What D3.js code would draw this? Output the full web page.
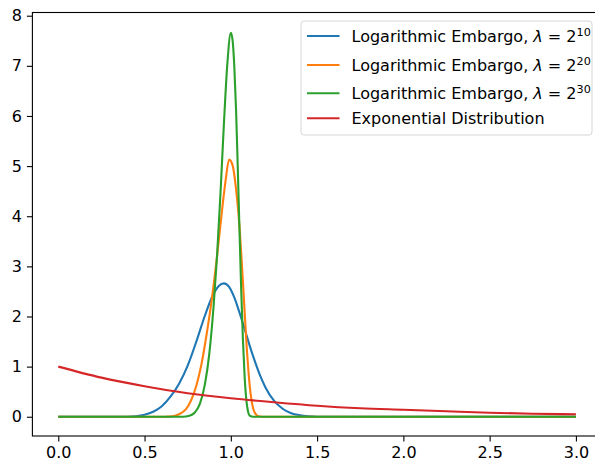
<!DOCTYPE html>
<html>
<head>
<meta charset="utf-8">
<script src="https://cdn.jsdelivr.net/npm/d3@7"></script>
<style>
  html, body { margin: 0; padding: 0; background: #fff; }
  svg { display: block; font-family: "DejaVu Sans", sans-serif; }
</style>
</head>
<body>
<div id="chart"></div>
<script>
// values
var blueX   = [0, 0.40, 0.45, 0.50, 0.55, 0.60, 0.65, 0.70, 0.75, 0.80, 0.85, 0.89, 0.93, 0.96, 0.99, 1.02, 1.05, 1.08, 1.11, 1.14, 1.17, 1.20, 1.25, 1.30, 1.35, 1.40, 1.45, 1.50, 3.00];
var blueY   = [0, 0.00, 0.01, 0.04, 0.10, 0.21, 0.40, 0.66, 1.02, 1.50, 2.02, 2.38, 2.61, 2.66, 2.59, 2.38, 2.08, 1.75, 1.41, 1.10, 0.82, 0.59, 0.32, 0.16, 0.07, 0.03, 0.01, 0.00, 0];

var orangeX = [0, 0.62, 0.66, 0.70, 0.74, 0.77, 0.80, 0.83, 0.86, 0.89, 0.92, 0.95, 0.97, 0.99, 1.01, 1.03, 1.05, 1.07, 1.09, 1.11, 1.13, 1.15, 1.17, 1.19, 3.00];
var orangeY = [0, 0, 0.01, 0.05, 0.15, 0.33, 0.62, 1.05, 1.65, 2.35, 3.20, 4.15, 4.72, 5.13, 5.02, 4.55, 3.80, 2.70, 1.50, 0.60, 0.16, 0.03, 0.005, 0, 0];

var greenX  = [0, 0.72, 0.76, 0.79, 0.82, 0.85, 0.875, 0.90, 0.92, 0.94, 0.96, 0.98, 1.00, 1.01, 1.02, 1.03, 1.04, 1.05, 1.06, 1.07, 1.08, 1.09, 1.10, 1.11, 1.13, 3.00];
var greenY  = [0, 0, 0.02, 0.08, 0.25, 0.65, 1.25, 2.20, 3.20, 4.45, 5.85, 7.05, 7.66, 7.52, 7.00, 6.15, 5.00, 3.75, 2.55, 1.55, 0.80, 0.33, 0.10, 0.02, 0, 0];

var redX    = [0, 0.25, 0.5, 0.75, 1.0, 1.25, 1.5, 1.75, 2.0, 2.25, 2.5, 2.75, 3.0];
var redY    = [1.00, 0.78, 0.61, 0.47, 0.37, 0.29, 0.22, 0.17, 0.14, 0.11, 0.08, 0.06, 0.05];

var xTicks = [0, 0.5, 1.0, 1.5, 2.0, 2.5, 3.0];
var yTicks = [0, 1, 2, 3, 4, 5, 6, 7, 8];

var series = [
  { sup: "10", color: "#1f77b4", xs: blueX, ys: blueY },
  { sup: "20", color: "#ff7f0e", xs: orangeX, ys: orangeY },
  { sup: "30", color: "#2ca02c", xs: greenX, ys: greenY },
  { label: "Exponential Distribution", color: "#d62728", xs: redX, ys: redY }
];

var W = 595, H = 463;
var fs = 16;

var svg = d3.select("#chart").append("svg")
  .attr("width", W)
  .attr("height", H);

// axes box (right spine falls outside the picture, like the reference)
var box = { left: 32.4, right: 601.8, top: 12.5, bottom: 436 };

var x = d3.scaleLinear().domain([-0.15, 3.15]).range([box.left, box.right]);
var y = d3.scaleLinear().domain([-0.384, 8.064]).range([box.bottom, box.top]);

var line = d3.line()
  .x(function(d) { return x(d[0]) })
  .y(function(d) { return y(d[1]) })
  .curve(d3.curveMonotoneX);

var plot = svg.append("g");
series.forEach(function(s) {
  var pts = s.xs.map(function(v, i) { return [v, s.ys[i]] });
  plot.append("path")
    .datum(pts)
    .attr("fill", "none")
    .attr("stroke", s.color)
    .attr("stroke-width", 2.1)
    .attr("stroke-linejoin", "round")
    .attr("d", line);
});

// axes
var xAxis = svg.append("g")
  .attr("transform", "translate(0," + box.bottom + ")")
  .call(d3.axisBottom(x).tickValues(xTicks).tickFormat(d3.format(".1f")).tickSizeOuter(0).tickSize(5.5).tickPadding(5));
var yAxis = svg.append("g")
  .attr("transform", "translate(" + box.left + ",0)")
  .call(d3.axisLeft(y).tickValues(yTicks).tickFormat(d3.format("d")).tickSizeOuter(0).tickSize(5.5).tickPadding(5));

[xAxis, yAxis].forEach(function(a) {
  a.select(".domain").remove();
  a.selectAll("line").attr("stroke", "#000").attr("stroke-width", 1.1);
  a.selectAll("text").attr("fill", "#000").attr("font-size", fs).attr("font-family", "DejaVu Sans");
});

// spines
svg.append("rect")
  .attr("x", box.left).attr("y", box.top)
  .attr("width", box.right - box.left).attr("height", box.bottom - box.top)
  .attr("fill", "none").attr("stroke", "#000").attr("stroke-width", 1.1);

// legend
var lg = svg.append("g");
lg.append("rect")
  .attr("x", 301).attr("y", 21)
  .attr("width", 291).attr("height", 114)
  .attr("rx", 3).attr("ry", 3)
  .attr("fill", "rgba(255,255,255,0.8)")
  .attr("stroke", "#d6d6d6").attr("stroke-width", 1);

var rowY = [36, 65, 93.3, 118.3];
series.forEach(function(s, i) {
  var ry = rowY[i];
  lg.append("line")
    .attr("x1", 307).attr("x2", 339.5)
    .attr("y1", ry).attr("y2", ry)
    .attr("stroke", s.color).attr("stroke-width", 2.1);
  var t = lg.append("text")
    .attr("x", 351.5).attr("y", ry + 6)
    .attr("font-size", fs)
    .attr("fill", "#000");
  if (s.sup) {
    t.append("tspan").text("Logarithmic Embargo, ");
    t.append("tspan").attr("font-style", "italic").text("\u03bb");
    t.append("tspan").text(" = 2");
    t.append("tspan").attr("font-size", 11.2).attr("dy", -6.5).text(s.sup);
  } else {
    t.text(s.label);
  }
});
</script>
</body>
</html>
